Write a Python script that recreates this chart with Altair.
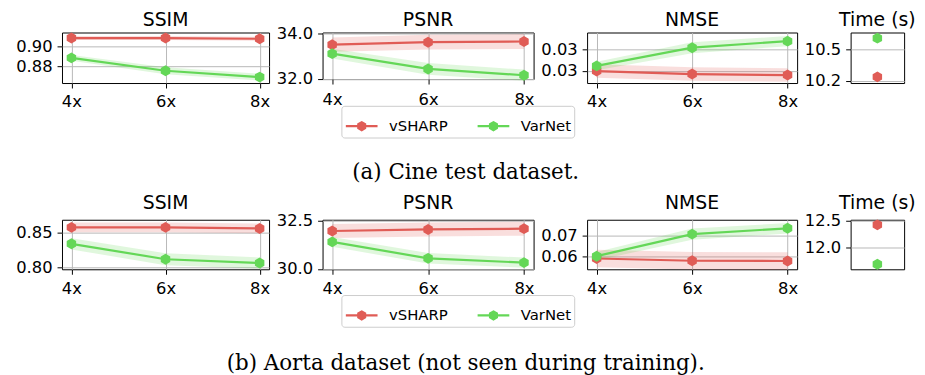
import altair as alt
import pandas as pd

FACTORS = [4, 6, 8]
METHODS = ["vSHARP", "VarNet"]
COLORS = ["#e05c56", "#64d757"]

# (a) Cine test dataset
CINE_SSIM_VSHARP = [0.9084, 0.9084, 0.9077]
CINE_SSIM_VSHARP_SD = [0.002, 0.002, 0.002]
CINE_SSIM_VARNET = [0.8884, 0.8754, 0.869]
CINE_SSIM_VARNET_SD = [0.003, 0.0035, 0.0035]
CINE_PSNR_VSHARP = [33.52, 33.63, 33.66]
CINE_PSNR_VSHARP_SD = [0.32, 0.33, 0.33]
CINE_PSNR_VARNET = [33.12, 32.44, 32.16]
CINE_PSNR_VARNET_SD = [0.22, 0.26, 0.25]
CINE_NMSE_VSHARP = [0.02997, 0.02962, 0.0295]
CINE_NMSE_VSHARP_SD = [0.0008, 0.0008, 0.0008]
CINE_NMSE_VARNET = [0.03058, 0.03273, 0.0335]
CINE_NMSE_VARNET_SD = [0.0005, 0.00065, 0.0006]
CINE_TIME = [10.24, 10.61]

# (b) Aorta dataset
AORTA_SSIM_VSHARP = [0.8575, 0.8575, 0.856]
AORTA_SSIM_VSHARP_SD = [0.007, 0.007, 0.007]
AORTA_SSIM_VARNET = [0.834, 0.812, 0.8066]
AORTA_SSIM_VARNET_SD = [0.008, 0.0085, 0.008]
AORTA_PSNR_VSHARP = [31.96, 32.04, 32.08]
AORTA_PSNR_VSHARP_SD = [0.36, 0.36, 0.36]
AORTA_PSNR_VARNET = [31.40, 30.55, 30.33]
AORTA_PSNR_VARNET_SD = [0.25, 0.27, 0.26]
AORTA_NMSE_VSHARP = [0.0589, 0.0578, 0.0577]
AORTA_NMSE_VSHARP_SD = [0.0042, 0.0042, 0.0042]
AORTA_NMSE_VARNET = [0.0600, 0.0706, 0.0734]
AORTA_NMSE_VARNET_SD = [0.002, 0.0027, 0.0025]
AORTA_TIME = [12.42, 11.70]

CAPTION_A = "(a) Cine test dataset."
CAPTION_B = "(b) Aorta dataset (not seen during training)."

COLOR_SCALE = alt.Scale(domain=METHODS, range=COLORS)


def hexpath(r):
    c = round(0.866 * r, 4)
    h = round(0.5 * r, 4)
    return f"M0,{-r}L{c},{-h}L{c},{h}L0,{r}L{-c},{h}L{-c},{-h}Z"


HEX = hexpath(1)
LEGEND_SYMBOL = "M-1,0H1" + hexpath(0.25) + hexpath(0.16) + hexpath(0.07)


def metric_df(vs, vs_sd, vn, vn_sd):
    rows = []
    for name, means, sds in (("vSHARP", vs, vs_sd), ("VarNet", vn, vn_sd)):
        for f, m, s in zip(FACTORS, means, sds):
            rows.append({"factor": f, "method": name, "mean": m, "lo": m - s, "hi": m + s})
    return pd.DataFrame(rows)


def color_enc(legend_y):
    legend = alt.Legend(
        orient="none", legendX=282, legendY=legend_y, direction="horizontal", columns=2,
        title=None, symbolType=LEGEND_SYMBOL, symbolSize=1024, symbolStrokeWidth=2.2,
        symbolOpacity=1, labelFontSize=15, labelFont="DejaVu Sans", labelColor="black",
        labelOffset=10, columnPadding=25, padding=3, strokeColor="#cccccc",
        fillColor="white", cornerRadius=3,
    )
    return alt.Color("method:N", scale=COLOR_SCALE, legend=legend)


def panel_title(text, offset):
    return alt.TitleParams(text, offset=offset, font="DejaVu Sans", fontSize=19,
                           fontWeight="normal", color="black", anchor="middle")


def metric_panel(df, title, domain, ticks, fmt, width, height, title_offset, color, xpad=6):
    yscale = alt.Scale(domain=domain, nice=False, zero=False)
    yaxis = alt.Axis(values=ticks, format=fmt, title=None, grid=True)
    xenc = alt.X("factor:Q", scale=alt.Scale(domain=[3.8, 8.2], nice=False, zero=False),
                 axis=alt.Axis(values=FACTORS, labelExpr="datum.value + 'x'", title=None,
                               grid=True, tickSize=5, labelPadding=xpad))
    base = alt.Chart(df)
    band = base.mark_area(opacity=0.2).encode(
        x=xenc, y=alt.Y("lo:Q", scale=yscale, axis=yaxis), y2="hi:Q", color=color)
    line = base.mark_line(strokeWidth=2.2).encode(
        x=xenc, y=alt.Y("mean:Q", scale=yscale, axis=yaxis), color=color)
    pts = base.mark_point(filled=True, shape=HEX, size=121, opacity=1).encode(
        x=xenc, y=alt.Y("mean:Q", scale=yscale, axis=yaxis), color=color)
    return alt.layer(band, line, pts).properties(
        width=width, height=height, title=panel_title(title, title_offset))


def time_panel(times, domain, ticks, height, title_offset, color):
    df = pd.DataFrame({"method": METHODS, "time": times})
    return alt.Chart(df).mark_point(filled=True, shape=HEX, size=121, opacity=1).encode(
        y=alt.Y("time:Q", scale=alt.Scale(domain=domain, nice=False, zero=False),
                axis=alt.Axis(values=ticks, format=".1f", title=None, grid=True)),
        color=color,
    ).properties(width=54, height=height, title=panel_title("Time (s)", title_offset))


def caption(text, offset):
    return alt.TitleParams(text, orient="bottom", anchor="middle", font="DejaVu Serif",
                           fontSize=21.6, fontWeight="normal", color="black", offset=offset)


C1 = color_enc(74)
row1 = alt.hconcat(
    metric_panel(metric_df(CINE_SSIM_VSHARP, CINE_SSIM_VSHARP_SD, CINE_SSIM_VARNET, CINE_SSIM_VARNET_SD),
                 "SSIM", [0.863, 0.914], [0.88, 0.90], ".2f", 209, 51, 3, C1),
    metric_panel(metric_df(CINE_PSNR_VSHARP, CINE_PSNR_VSHARP_SD, CINE_PSNR_VARNET, CINE_PSNR_VARNET_SD),
                 "PSNR", [31.99, 34.06], [32.0, 34.0], ".1f", 213, 47, -3.6, C1, xpad=8),
    metric_panel(metric_df(CINE_NMSE_VSHARP, CINE_NMSE_VSHARP_SD, CINE_NMSE_VARNET, CINE_NMSE_VARNET_SD),
                 "NMSE", [0.02856, 0.03452], [0.0300, 0.0325], ".2f", 212, 51, 3, C1),
    time_panel(CINE_TIME, [10.181, 10.664], [10.2, 10.5], 51, 3, C1),
    spacing=54, bounds="flush",
).properties(title=caption(CAPTION_A, 24))

C2 = color_enc(76)
row2 = alt.hconcat(
    metric_panel(metric_df(AORTA_SSIM_VSHARP, AORTA_SSIM_VSHARP_SD, AORTA_SSIM_VARNET, AORTA_SSIM_VARNET_SD),
                 "SSIM", [0.7976, 0.8684], [0.80, 0.85], ".2f", 209, 50, 7, C2),
    metric_panel(metric_df(AORTA_PSNR_VSHARP, AORTA_PSNR_VSHARP_SD, AORTA_PSNR_VARNET, AORTA_PSNR_VARNET_SD),
                 "PSNR", [29.985, 32.54], [30.0, 32.5], ".1f", 213, 50, -0.2, C2),
    metric_panel(metric_df(AORTA_NMSE_VSHARP, AORTA_NMSE_VSHARP_SD, AORTA_NMSE_VARNET, AORTA_NMSE_VARNET_SD),
                 "NMSE", [0.0537, 0.0775], [0.06, 0.07], ".2f", 212, 50, 7, C2),
    time_panel(AORTA_TIME, [11.607, 12.513], [12.0, 12.5], 50, -0.3, C2),
    spacing=54, bounds="flush",
).properties(title=caption(CAPTION_B, 26))

chart = alt.vconcat(row1, row2, spacing=9).resolve_scale(color="independent").properties(
    padding={"left": 6.5, "top": 0, "right": 0, "bottom": 2}
).configure(font="DejaVu Sans").configure_view(
    stroke="black", strokeWidth=1
).configure_axis(
    domain=False, grid=True, gridColor="#b8b8b8", gridWidth=1, tickColor="black",
    tickSize=5, labelFontSize=16.5, labelFont="DejaVu Sans", labelColor="black", labelPadding=5,
)

chart.save("out.html", embed_options={"renderer": "svg", "actions": False})
